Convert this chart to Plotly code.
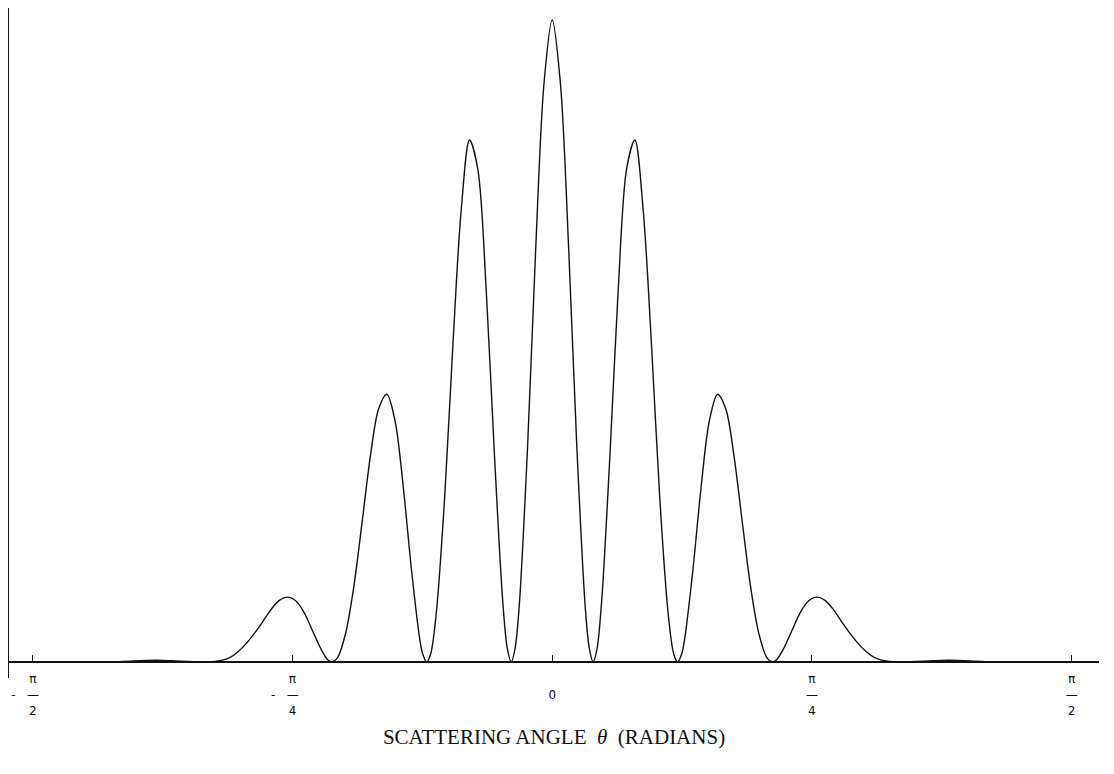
import plotly.graph_objects as go
import math

theta = [-1.649, -1.35, -1.3, -1.25, -1.2, -1.15, -1.1, -1.0428, -1.0, -0.975, -0.95, -0.925,
         -0.9, -0.875, -0.85, -0.825, -0.8, -0.775, -0.75, -0.725, -0.7, -0.678, -0.6659,
         -0.65, -0.625, -0.6, -0.575, -0.55, -0.525, -0.5, -0.475, -0.45, -0.425, -0.4,
         -0.3915, -0.3795, -0.3675, -0.35, -0.325, -0.3, -0.275, -0.25, -0.225, -0.2,
         -0.175, -0.15, -0.136, -0.1238, -0.112, -0.1, -0.075, -0.05, -0.025,
         0.0,
         0.025, 0.05, 0.075, 0.1, 0.112, 0.1238, 0.136, 0.15, 0.175, 0.2, 0.225, 0.25,
         0.275, 0.3, 0.325, 0.35, 0.3675, 0.3795, 0.3915, 0.4, 0.425, 0.45, 0.475, 0.5,
         0.525, 0.55, 0.575, 0.6, 0.625, 0.65, 0.6659, 0.678, 0.7, 0.725, 0.75, 0.775,
         0.8, 0.825, 0.85, 0.875, 0.9, 0.925, 0.95, 0.975, 1.0, 1.0428, 1.1, 1.15, 1.2,
         1.25, 1.3, 1.35, 1.653]

intensity = [0.0, 0.0, 0.0008, 0.002, 0.0027, 0.002, 0.0009, 0.0, 0.0026, 0.007, 0.016, 0.029,
             0.045, 0.063, 0.082, 0.096, 0.101, 0.095, 0.077, 0.049, 0.021, 0.003, 0.0,
             0.006, 0.044, 0.117, 0.217, 0.320, 0.394, 0.417, 0.375, 0.271, 0.141, 0.034,
             0.0125, 0.0, 0.0125, 0.079, 0.258, 0.497, 0.705, 0.813, 0.768, 0.584,
             0.326, 0.098, 0.022, 0.0, 0.022, 0.085, 0.329, 0.642, 0.900,
             1.0,
             0.900, 0.642, 0.329, 0.085, 0.022, 0.0, 0.022, 0.098, 0.326, 0.584, 0.768, 0.813,
             0.705, 0.497, 0.258, 0.079, 0.0125, 0.0, 0.0125, 0.034, 0.141, 0.271, 0.375, 0.417,
             0.394, 0.320, 0.217, 0.117, 0.044, 0.006, 0.0, 0.003, 0.021, 0.049, 0.077, 0.095,
             0.101, 0.096, 0.082, 0.063, 0.045, 0.029, 0.016, 0.007, 0.0026, 0.0, 0.0009, 0.002, 0.0027,
             0.002, 0.0008, 0.0, 0.0]

tick_vals = [-math.pi / 2, -math.pi / 4, 0, math.pi / 4, math.pi / 2]
tick_text = [
    "π<br>-\u00a0\u00a0\u00a0—\u00a0\u00a0\u00a0\u00a0<br>2",
    "π<br>-\u00a0\u00a0\u00a0—\u00a0\u00a0\u00a0\u00a0<br>4",
    "\u00a0<br>0<br>\u00a0",
    "π<br>—<br>4",
    "π<br>—<br>2",
]

fig = go.Figure()
fig.add_trace(go.Scatter(
    x=theta, y=intensity, mode="lines",
    line=dict(color="#111111", width=1.4, shape="spline", smoothing=0.9),
    hoverinfo="skip", showlegend=False,
))

fig.update_layout(
    width=1106, height=766,
    margin=dict(l=1, r=15, t=0, b=96),
    paper_bgcolor="white", plot_bgcolor="white",
    xaxis=dict(
        range=[-1.6426, 1.6535],
        anchor="free", position=16 / 670,
        showgrid=False, zeroline=False,
        showline=True, linecolor="#111111", linewidth=2,
        ticks="inside", ticklen=6, tickwidth=1.2, tickcolor="#111111",
        tickvals=tick_vals, ticktext=tick_text,
        ticklabelstandoff=6,
        tickfont=dict(family="DejaVu Sans", size=12, color="#111111"),
        title=dict(
            text="SCATTERING ANGLE\u00a0\u00a0<i>θ</i>\u00a0\u00a0(RADIANS)",
            font=dict(family="Liberation Serif", size=21, color="#111111"),
            standoff=12,
        ),
    ),
    yaxis=dict(
        range=[-0.0249, 1.0187],
        showgrid=False, zeroline=False,
        showline=True, linecolor="#111111", linewidth=2,
        ticks="", showticklabels=False,
    ),
)

fig.write_html("out.html")
